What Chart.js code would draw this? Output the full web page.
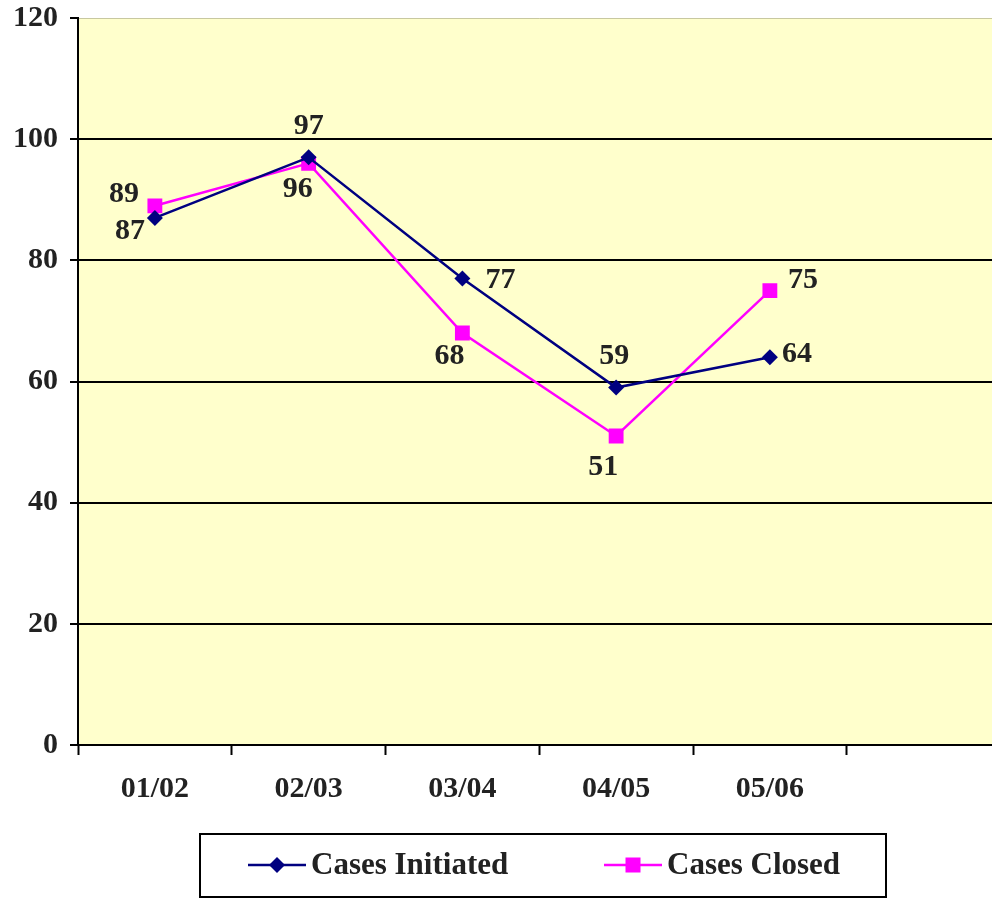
<!DOCTYPE html>
<html>
<head>
<meta charset="utf-8">
<script src="https://cdn.jsdelivr.net/npm/chart.js@4.4.0/dist/chart.umd.min.js"></script>
<style>
html,body{margin:0;padding:0;background:#fff;overflow:hidden;width:992px;height:899px;}
#wrap{position:absolute;left:0;top:0;width:1011px;height:899px;}
#c{width:1011px;height:899px;display:block;}
</style>
</head>
<body>
<div id="wrap"><canvas id="c" width="1011" height="899"></canvas></div>
<script>
const categories = ['01/02', '02/03', '03/04', '04/05', '05/06', ''];
const casesInitiated = [87, 97, 77, 59, 64, null];
const casesClosed = [89, 96, 68, 51, 75, null];
const yTicks = [0, 20, 40, 60, 80, 100, 120];

// label placement offsets (style only)
const initiatedLabelOffsets = [[-25, 13], [0, -31], [38, 2], [-2, -31], [27, -3]];
const closedLabelOffsets = [[-31, -12], [-11, 26], [-13, 23], [-13, 31], [33, -10]];

const FONT = '"Liberation Serif", "Times New Roman", serif';
const TXT = '#222222';

const bgPlugin = {
  id: 'bg',
  beforeDraw(chart) {
    const {ctx, chartArea: a} = chart;
    ctx.save();
    ctx.fillStyle = '#FFFFCC';
    ctx.fillRect(a.left, a.top, a.right - a.left, a.bottom - a.top);
    ctx.strokeStyle = '#C8C8A0';
    ctx.lineWidth = 1;
    ctx.beginPath();
    ctx.moveTo(a.left, a.top + 0.5);
    ctx.lineTo(a.right, a.top + 0.5);
    ctx.stroke();
    ctx.restore();
  }
};

const labelPlugin = {
  id: 'labels',
  afterDatasetsDraw(chart) {
    const ctx = chart.ctx;
    ctx.save();
    ctx.font = 'bold 30px ' + FONT;
    ctx.fillStyle = TXT;
    ctx.textAlign = 'center';
    ctx.textBaseline = 'middle';
    const offs = [initiatedLabelOffsets, closedLabelOffsets];
    chart.data.datasets.forEach((ds, di) => {
      const meta = chart.getDatasetMeta(di);
      meta.data.forEach((pt, i) => {
        const v = ds.data[i];
        if (v === null || v === undefined) return;
        const o = offs[di][i];
        ctx.fillText(String(v), pt.x + o[0], pt.y + o[1]);
      });
    });
    ctx.restore();
  }
};

const legendPlugin = {
  id: 'customLegend',
  afterDraw(chart) {
    const ctx = chart.ctx;
    ctx.save();
    ctx.strokeStyle = '#000';
    ctx.lineWidth = 2;
    ctx.strokeRect(200, 834, 686, 63);
    const y = 865;
    const items = [
      {x: 248, ds: chart.data.datasets[0]},
      {x: 604, ds: chart.data.datasets[1]}
    ];
    items.forEach(it => {
      const ds = it.ds;
      ctx.strokeStyle = ds.borderColor;
      ctx.lineWidth = 2.5;
      ctx.beginPath();
      ctx.moveTo(it.x, y);
      ctx.lineTo(it.x + 58, y);
      ctx.stroke();
      const cx = it.x + 29;
      ctx.fillStyle = ds.pointBackgroundColor;
      if (ds.pointStyle === 'rectRot') {
        const r = 8;
        ctx.beginPath();
        ctx.moveTo(cx, y - r); ctx.lineTo(cx + r, y); ctx.lineTo(cx, y + r); ctx.lineTo(cx - r, y);
        ctx.closePath(); ctx.fill();
      } else {
        ctx.fillRect(cx - 7.5, y - 7.5, 15, 15);
      }
      ctx.fillStyle = TXT;
      ctx.font = 'bold 31px ' + FONT;
      ctx.textAlign = 'left';
      ctx.textBaseline = 'middle';
      ctx.fillText(ds.label, it.x + 63, y + 1);
    });
    ctx.restore();
  }
};

new Chart(document.getElementById('c'), {
  type: 'line',
  data: {
    labels: categories,
    datasets: [
      {
        label: 'Cases Initiated',
        data: casesInitiated,
        borderColor: '#000080',
        backgroundColor: '#000080',
        pointBackgroundColor: '#000080',
        pointBorderColor: '#000080',
        pointBorderWidth: 0,
        pointStyle: 'rectRot',
        pointRadius: 8,
        borderWidth: 2.5,
        tension: 0,
        fill: false
      },
      {
        label: 'Cases Closed',
        data: casesClosed,
        borderColor: '#FF00FF',
        backgroundColor: '#FF00FF',
        pointBackgroundColor: '#FF00FF',
        pointBorderColor: '#FF00FF',
        pointBorderWidth: 0,
        pointStyle: 'rect',
        pointRadius: 10.5,
        borderWidth: 2.5,
        tension: 0,
        fill: false
      }
    ]
  },
  options: {
    responsive: false,
    animation: false,
    devicePixelRatio: 1,
    layout: {padding: {left: 0, right: 0, top: 18, bottom: 0}},
    plugins: {legend: {display: false}, tooltip: {enabled: false}},
    scales: {
      x: {
        offset: true,
        grid: {
          offset: true,
          drawOnChartArea: false,
          drawTicks: true,
          tickLength: 10,
          tickColor: '#000',
          tickWidth: 2,
          color: '#000'
        },
        border: {display: true, color: '#000', width: 2},
        ticks: {
          color: TXT,
          font: {family: FONT, size: 30, weight: 'bold'},
          padding: 16,
          maxRotation: 0
        },
        afterFit(s) { s.height = 154; s.paddingLeft = 0; s.paddingRight = 0; }
      },
      y: {
        min: 0,
        max: 120,
        afterBuildTicks(s) { s.ticks = yTicks.map(v => ({value: v})); },
        grid: {
          color: ctx => (ctx.tick && ctx.tick.value === 120) ? 'rgba(0,0,0,0)' : '#000',
          lineWidth: 2,
          tickLength: 8,
          tickColor: '#000',
          tickWidth: 2
        },
        border: {display: true, color: '#000', width: 2},
        ticks: {
          color: TXT,
          font: {family: FONT, size: 30, weight: 'bold'},
          padding: 12
        },
        afterFit(s) { s.width = 78; s.paddingTop = 0; s.paddingBottom = 0; }
      }
    }
  },
  plugins: [bgPlugin, labelPlugin, legendPlugin]
});
</script>
</body>
</html>
